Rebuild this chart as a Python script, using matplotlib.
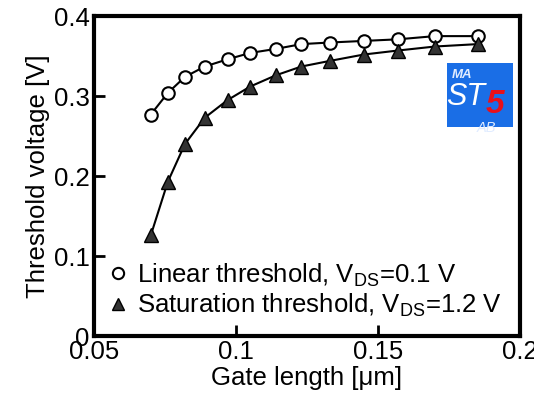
import matplotlib
matplotlib.use("Agg")
import matplotlib.pyplot as plt
from matplotlib.patches import Rectangle

plt.rcParams['font.family'] = ['Liberation Sans', 'DejaVu Sans']
plt.rcParams['mathtext.fontset'] = 'custom'
plt.rcParams['mathtext.rm'] = 'Liberation Sans'

gate_length = [0.070, 0.076, 0.082, 0.089, 0.097, 0.105, 0.114, 0.123, 0.133, 0.145, 0.157, 0.170, 0.185]
vt_linear = [0.277, 0.304, 0.324, 0.337, 0.346, 0.354, 0.359, 0.365, 0.367, 0.369, 0.371, 0.375, 0.375]
vt_sat = [0.126, 0.193, 0.240, 0.273, 0.295, 0.312, 0.326, 0.337, 0.344, 0.352, 0.357, 0.362, 0.365]
xticks = [0.05, 0.1, 0.15, 0.2]
xticklabels = ['0.05', '0.1', '0.15', '0.2']
yticks = [0, 0.1, 0.2, 0.3, 0.4]
yticklabels = ['0', '0.1', '0.2', '0.3', '0.4']

FS = 18.5

fig = plt.figure(figsize=(5.34, 4.03), dpi=100)
ax = fig.add_axes([0.176, 0.166, 0.798, 0.794])

ax.plot(gate_length, vt_linear, '-o', color='black', lw=1.5, ms=9,
        mfc='white', mec='black', mew=1.5,
        label='Linear threshold, V$_{\\rm DS}$=0.1 V')
ax.plot(gate_length, vt_sat, '-^', color='black', lw=1.5, ms=10,
        mfc='#333333', mec='black', mew=1.0,
        label='Saturation threshold, V$_{\\rm DS}$=1.2 V')

ax.set_xlim(0.05, 0.2)
ax.set_ylim(0, 0.4)
ax.set_xticks(xticks)
ax.set_xticklabels(xticklabels)
ax.set_yticks(yticks)
ax.set_yticklabels(yticklabels)
ax.tick_params(direction='in', length=8, width=2, labelsize=FS, pad=3)
for s in ax.spines.values():
    s.set_linewidth(3)
ax.set_xlabel('Gate length [\u03bcm]', fontsize=FS, labelpad=1)
ax.set_ylabel('Threshold voltage [V]', fontsize=FS, labelpad=3)

leg = ax.legend(loc='lower left', bbox_to_anchor=(-0.005, 0.005), frameon=False,
                fontsize=FS, handlelength=0.8, handletextpad=0.35,
                labelspacing=0.12, borderaxespad=0.2, markerscale=0.9)
for h in leg.legend_handles:
    h.set_linestyle('none')

# logo (axes fraction coordinates)
lx, ly, lw_, lh = 0.829, 0.653, 0.155, 0.2
tr = ax.transAxes
box = Rectangle((lx, ly), lw_, lh, facecolor='#1a6ee6', transform=tr,
                edgecolor='none', zorder=3)
ax.add_patch(box)
clip = Rectangle((lx, ly), lw_, lh, transform=tr)
ax.text(0.840, 0.806, 'MA', color='#e0ecff', fontsize=9.5, transform=tr,
        style='italic', fontweight='bold', ha='left', va='baseline', zorder=4)
ax.text(0.827, 0.722, 'ST', color='white', fontsize=22, transform=tr,
        style='italic', ha='left', va='baseline', zorder=4)
ax.text(0.918, 0.697, '5', color='#e8101a', fontsize=24, transform=tr,
        style='italic', fontweight='bold', ha='left', va='baseline', zorder=4)
t = ax.text(0.898, 0.638, 'AB', color='#e0ecff', fontsize=10.5, transform=tr,
            style='italic', ha='left', va='baseline', zorder=4)
t.set_clip_path(clip)

fig.savefig('out.png', dpi=100)
